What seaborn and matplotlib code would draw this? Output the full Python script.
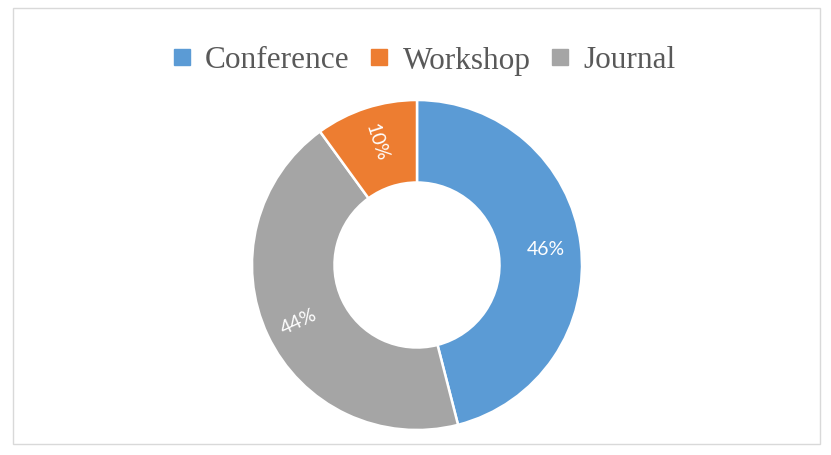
import matplotlib
matplotlib.use("Agg")
import matplotlib.pyplot as plt
from matplotlib.lines import Line2D
from matplotlib.patches import Rectangle
import seaborn as sns
import numpy as np

categories = ["Conference", "Workshop", "Journal"]
shares = [46, 10, 44]
colors = {"Conference": "#5B9BD5", "Workshop": "#ED7D31", "Journal": "#A5A5A5"}
draw_order = ["Conference", "Journal", "Workshop"]
label_rot = {"Conference": 0, "Workshop": -72, "Journal": 25}

sns.set_theme(style="white")
plt.rcParams["font.family"] = ["Liberation Serif", "DejaVu Serif"]

W, H = 831, 456
fig = plt.figure(figsize=(W / 100, H / 100), dpi=100)
fig.patch.set_facecolor("white")

cx, cy, R = 417, 266, 165
ax = fig.add_axes([(cx - R) / W, (H - cy - R) / H, 2 * R / W, 2 * R / H])

vals = [shares[categories.index(c)] for c in draw_order]
cols = [colors[c] for c in draw_order]
wedges, _ = ax.pie(vals, colors=cols, startangle=90, counterclock=False,
                   radius=1.0, wedgeprops=dict(width=0.5, edgecolor="white", linewidth=1.8))
ax.set_xlim(-1, 1)
ax.set_ylim(-1, 1)
ax.set_aspect("equal")
ax.axis("off")

total = sum(vals)
cum = 0
for c, v in zip(draw_order, vals):
    mid = 90 - (cum + v / 2) / total * 360
    cum += v
    r = 0.79
    x, y = r * np.cos(np.radians(mid)), r * np.sin(np.radians(mid))
    ax.text(x, y, f"{v}%", ha="center", va="center", color="white",
            fontsize=14, rotation=label_rot[c], family=["Lato", "DejaVu Sans"])

handles = [Line2D([], [], marker="s", linestyle="none", markersize=12,
                  markerfacecolor=colors[c], markeredgecolor=colors[c]) for c in categories]
leg = fig.legend(handles, categories, loc="center", bbox_to_anchor=(421 / W, 1 - 61 / H),
                 ncol=3, frameon=False, fontsize=22.5, handletextpad=0.25,
                 columnspacing=0.45, handlelength=1.0)
for t in leg.get_texts():
    t.set_color("#595959")

fig.add_artist(Rectangle((13 / W, 1 - 445 / H), (820 - 13) / W, (445 - 9) / H,
                         transform=fig.transFigure, fill=False,
                         edgecolor="#D9D9D9", linewidth=1.0))

fig.savefig("out.png", dpi=100)
